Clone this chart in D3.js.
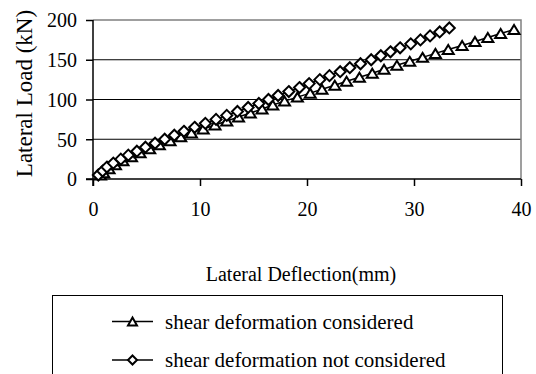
<!DOCTYPE html>
<html>
<head>
<meta charset="utf-8">
<script src="https://cdn.jsdelivr.net/npm/d3@7"></script>
<style>
  body { margin: 0; background: #fff; }
  svg { display: block; font-family: "Liberation Serif", "Times New Roman", serif; }
</style>
</head>
<body>
<svg id="chart" width="536" height="374"></svg>
<script>
// readings from the reference (deflection in mm, load in kN)
var withShearDefl = [0.7, 1.0, 1.5, 2.1, 2.8, 3.6, 4.4, 5.3, 6.2, 7.2, 8.2, 9.2, 10.3, 11.4, 12.5, 13.6, 14.7,
	15.8, 16.8, 17.9, 19.1, 20.3, 21.4, 22.6, 23.7, 24.9, 26.1, 27.2, 28.4, 29.6, 30.8, 32.0, 33.2, 34.5, 35.7, 36.9, 38.1, 39.35];
var withShearLoad = [5, 8, 13, 18, 23, 28, 33, 38, 43, 48, 53, 58, 63, 68, 73, 78, 83,
	88, 93, 98, 103, 108, 113, 118, 123, 128, 133, 138, 143, 148, 153, 158, 163, 168, 173, 178, 183, 188];

var noShearDefl = [0.5, 0.9, 1.3, 1.9, 2.6, 3.3, 4.1, 4.9, 5.8, 6.7, 7.6, 8.5, 9.5, 10.5, 11.5, 12.5, 13.5, 14.5,
	15.5, 16.4, 17.3, 18.3, 19.3, 20.2, 21.2, 22.1, 23.1, 24.0, 25.0, 26.0, 26.9, 27.8, 28.7, 29.7, 30.6, 31.5, 32.4, 33.3];
var noShearLoad = [5, 10, 15, 20, 25, 30, 35, 40, 45, 50, 55, 60, 65, 70, 75, 80, 85, 90,
	95, 100, 105, 110, 115, 120, 125, 130, 135, 140, 145, 150, 155, 160, 165, 170, 175, 180, 185, 190];

var xTicks = [0, 10, 20, 30, 40];
var yTicks = [0, 50, 100, 150, 200];
var seriesNames = ["shear deformation considered", "shear deformation not considered"];

var svg = d3.select("#chart");
var plotL = 93, plotR = 521, plotT = 20, plotB = 179;

var x = d3.scaleLinear().domain([0, 40]).range([plotL, plotR]);
var y = d3.scaleLinear().domain([0, 200]).range([plotB, plotT]);

// grid lines
svg.selectAll("line.grid").data(yTicks.slice(1, 4)).enter().append("line")
	.attr("x1", plotL).attr("x2", plotR)
	.attr("y1", function(d) { return y(d); }).attr("y2", function(d) { return y(d); })
	.style("stroke", "#000").style("stroke-width", 1);

// gray frame on top and right
svg.append("path")
	.attr("d", "M" + plotL + "," + plotT + "H" + plotR + "V" + plotB)
	.style("fill", "none").style("stroke", "#808080").style("stroke-width", 1.5);

// axes
var xAxis = d3.axisBottom(x).tickValues(xTicks).tickSize(7).tickPadding(16);
var yAxis = d3.axisLeft(y).tickValues(yTicks).tickSize(7).tickPadding(9);

var gx = svg.append("g").attr("transform", "translate(0," + plotB + ")").call(xAxis);
var gy = svg.append("g").attr("transform", "translate(" + plotL + ",0)").call(yAxis);

[gx, gy].forEach(function(g) {
	g.select(".domain").style("stroke", "#000").style("stroke-width", 1.5);
	g.selectAll(".tick line").style("stroke", "#000").style("stroke-width", 1.5);
	g.selectAll(".tick text").style("font-family", "Liberation Serif").style("font-size", "20px").style("fill", "#000");
});
gx.select(".domain").attr("d", "M" + (plotL - 7) + ",0H" + plotR);
gy.select(".domain").attr("d", "M0," + (plotB + 7) + "V" + plotT);
gy.selectAll(".tick text").attr("dy", "0.34em");

// axis titles
svg.append("text")
	.attr("transform", "translate(32," + ((plotT + plotB) / 2 - 6) + ") rotate(-90)")
	.attr("text-anchor", "middle")
	.style("font-size", "23px")
	.text("Lateral Load (kN)");

svg.append("text")
	.attr("x", (plotL + plotR) / 2 - 6).attr("y", 281)
	.attr("text-anchor", "middle")
	.style("font-size", "20px")
	.text("Lateral Deflection(mm)");

// markers
function triangle(w, h) {
	return "M0," + (-h / 2) + "L" + (w / 2) + "," + (h / 2) + "L" + (-w / 2) + "," + (h / 2) + "Z";
}
function diamond(r) {
	return "M0," + (-r) + "L" + r + ",0L0," + r + "L" + (-r) + ",0Z";
}

var line = d3.line().x(function(d) { return x(d[0]); }).y(function(d) { return y(d[1]); });

var s1 = d3.zip(withShearDefl, withShearLoad);
var s2 = d3.zip(noShearDefl, noShearLoad);

svg.append("path").datum(s1).attr("d", line)
	.style("fill", "none").style("stroke", "#000").style("stroke-width", 1.5);
svg.selectAll("path.tri").data(s1).enter().append("path")
	.attr("class", "tri")
	.attr("transform", function(d) { return "translate(" + x(d[0]) + "," + y(d[1]) + ")"; })
	.attr("d", triangle(11, 9))
	.style("fill", "#fff").style("stroke", "#000").style("stroke-width", 2);

svg.append("path").datum(s2).attr("d", line)
	.style("fill", "none").style("stroke", "#000").style("stroke-width", 1.5);
svg.selectAll("path.dia").data(s2).enter().append("path")
	.attr("class", "dia")
	.attr("transform", function(d) { return "translate(" + x(d[0]) + "," + y(d[1]) + ")"; })
	.attr("d", diamond(5.5))
	.style("fill", "#fff").style("stroke", "#000").style("stroke-width", 2);

// legend
svg.append("rect")
	.attr("x", 52.5).attr("y", 295.5).attr("width", 450).attr("height", 120)
	.style("fill", "none").style("stroke", "#000").style("stroke-width", 1);

var legendRows = [321.5, 360];
var legendShapes = [triangle(9, 8), diamond(4.5)];
seriesNames.forEach(function(name, i) {
	var g = svg.append("g").attr("transform", "translate(0," + legendRows[i] + ")");
	g.append("line").attr("x1", 112).attr("x2", 153).attr("y1", 0).attr("y2", 0)
		.style("stroke", "#000").style("stroke-width", 1.5);
	g.append("path").attr("transform", "translate(132.5,0)").attr("d", legendShapes[i])
		.style("fill", "#fff").style("stroke", "#000").style("stroke-width", 2);
	g.append("text").attr("x", 165).attr("y", 7)
		.style("font-size", "21px")
		.text(name);
});
</script>
</body>
</html>
